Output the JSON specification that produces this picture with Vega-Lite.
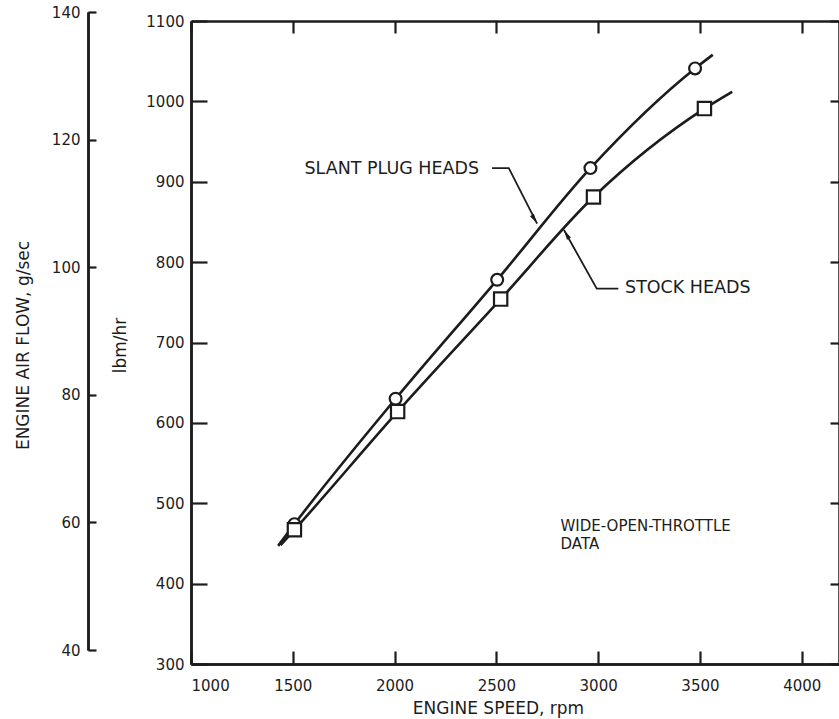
{
  "$schema": "https://vega.github.io/schema/vega-lite/v6.json",
  "width": 648,
  "height": 643,
  "autosize": {"type": "none"},
  "padding": {"left": 191, "top": 21, "right": 0, "bottom": 55},
  "background": "white",
  "config": {
    "view": {"stroke": null},
    "font": "DejaVu Sans",
    "axis": {
      "domainColor": "#1c1c1c",
      "domainWidth": 2.5,
      "tickColor": "#1c1c1c",
      "tickWidth": 2.2,
      "labelColor": "#1c1c1c",
      "labelFont": "DejaVu Sans",
      "labelFontSize": 15,
      "titleFont": "DejaVu Sans",
      "titleFontSize": 17,
      "titleFontWeight": "normal",
      "titleColor": "#1c1c1c",
      "grid": false
    }
  },
  "datasets": {
    "curves": [
      {"series": "Slant plug heads", "rpm": 1428, "lbm": 447},
      {"series": "Slant plug heads", "rpm": 1508, "lbm": 474},
      {"series": "Slant plug heads", "rpm": 2005, "lbm": 630},
      {"series": "Slant plug heads", "rpm": 2504, "lbm": 778},
      {"series": "Slant plug heads", "rpm": 2962, "lbm": 917},
      {"series": "Slant plug heads", "rpm": 3476, "lbm": 1041},
      {"series": "Slant plug heads", "rpm": 3563, "lbm": 1058},
      {"series": "Stock heads", "rpm": 1440, "lbm": 448},
      {"series": "Stock heads", "rpm": 1508, "lbm": 467},
      {"series": "Stock heads", "rpm": 2015, "lbm": 614},
      {"series": "Stock heads", "rpm": 2521, "lbm": 754},
      {"series": "Stock heads", "rpm": 2977, "lbm": 881},
      {"series": "Stock heads", "rpm": 3522, "lbm": 991},
      {"series": "Stock heads", "rpm": 3658, "lbm": 1012}
    ],
    "slant": [
      {"rpm": 1508, "lbm": 474},
      {"rpm": 2005, "lbm": 630},
      {"rpm": 2504, "lbm": 778},
      {"rpm": 2962, "lbm": 917},
      {"rpm": 3476, "lbm": 1041}
    ],
    "stock": [
      {"rpm": 1508, "lbm": 467},
      {"rpm": 2015, "lbm": 614},
      {"rpm": 2521, "lbm": 754},
      {"rpm": 2977, "lbm": 881},
      {"rpm": 3522, "lbm": 991}
    ],
    "labels": [
      {"text": "SLANT PLUG HEADS", "rpm": 1557, "lbm": 916},
      {"text": "STOCK HEADS", "rpm": 3132, "lbm": 768}
    ],
    "notes": [
      {"text": "WIDE-OPEN-THROTTLE", "rpm": 2815, "lbm": 472},
      {"text": "DATA", "rpm": 2815, "lbm": 449}
    ],
    "leaders": [
      {"leader": "slant", "k": 1, "rpm": 2479, "lbm": 917},
      {"leader": "slant", "k": 2, "rpm": 2561, "lbm": 917},
      {"leader": "slant", "k": 3, "rpm": 2700, "lbm": 848},
      {"leader": "stock", "k": 1, "rpm": 3099, "lbm": 767},
      {"leader": "stock", "k": 2, "rpm": 2993, "lbm": 767},
      {"leader": "stock", "k": 3, "rpm": 2832, "lbm": 840}
    ],
    "gs": [{"gs": 40}, {"gs": 140}]
  },
  "layer": [
    {
      "layer": [
        {
          "data": {"name": "curves"},
          "mark": {"type": "line", "interpolate": "monotone", "color": "#1c1c1c", "strokeWidth": 2.6},
          "encoding": {
            "x": {
              "field": "rpm", "type": "quantitative",
              "scale": {"domain": [1000, 4183], "nice": false, "zero": false},
              "axis": {
                "orient": "bottom",
                "values": [1000, 1500, 2000, 2500, 3000, 3500, 4000],
                "format": "d",
                "ticks": false,
                "labelPadding": 14,
                "title": "ENGINE SPEED, rpm",
                "titleX": 307,
                "titleY": 44,
                "titleBaseline": "middle"
              }
            },
            "y": {
              "field": "lbm", "type": "quantitative",
              "scale": {"domain": [300, 1100], "nice": false, "zero": false},
              "axis": {
                "orient": "left",
                "values": [300, 400, 500, 600, 700, 800, 900, 1000, 1100],
                "format": "d",
                "ticks": false,
                "labelPadding": 7,
                "title": "lbm/hr",
                "titleFontSize": 17,
                "titleX": -71,
                "titleY": 324,
                "titleAngle": -90,
                "titleBaseline": "middle",
                "titleAlign": "center"
              }
            },
            "detail": {"field": "series"}
          }
        },
        {
          "data": {"name": "slant"},
          "mark": {"type": "point", "shape": "circle", "filled": true, "fill": "white", "stroke": "#1c1c1c", "strokeWidth": 2.2, "size": 140, "opacity": 1},
          "encoding": {
            "x": {"field": "rpm", "type": "quantitative"},
            "y": {"field": "lbm", "type": "quantitative"}
          }
        },
        {
          "data": {"name": "stock"},
          "mark": {"type": "point", "shape": "square", "filled": true, "fill": "white", "stroke": "#1c1c1c", "strokeWidth": 2.2, "size": 177, "opacity": 1},
          "encoding": {
            "x": {"field": "rpm", "type": "quantitative"},
            "y": {"field": "lbm", "type": "quantitative"}
          }
        },
        {
          "data": {"name": "leaders"},
          "mark": {"type": "line", "color": "#1c1c1c", "strokeWidth": 1.8},
          "encoding": {
            "x": {"field": "rpm", "type": "quantitative"},
            "y": {"field": "lbm", "type": "quantitative"},
            "detail": {"field": "leader"},
            "order": {"field": "k"}
          }
        },
        {
          "data": {"name": "leaders"},
          "transform": [{"filter": "datum.leader === 'slant' && datum.k === 3"}],
          "mark": {"type": "point", "shape": "M0,0L0.45,2L-0.45,2Z", "filled": true, "color": "#1c1c1c", "size": 100, "angle": 149, "opacity": 1},
          "encoding": {
            "x": {"field": "rpm", "type": "quantitative"},
            "y": {"field": "lbm", "type": "quantitative"}
          }
        },
        {
          "data": {"name": "leaders"},
          "transform": [{"filter": "datum.leader === 'stock' && datum.k === 3"}],
          "mark": {"type": "point", "shape": "M0,0L0.45,2L-0.45,2Z", "filled": true, "color": "#1c1c1c", "size": 100, "angle": 330, "opacity": 1},
          "encoding": {
            "x": {"field": "rpm", "type": "quantitative"},
            "y": {"field": "lbm", "type": "quantitative"}
          }
        },
        {
          "data": {"name": "labels"},
          "mark": {"type": "text", "align": "left", "baseline": "middle", "font": "DejaVu Sans", "fontSize": 17.5, "color": "#1c1c1c"},
          "encoding": {
            "x": {"field": "rpm", "type": "quantitative"},
            "y": {"field": "lbm", "type": "quantitative"},
            "text": {"field": "text"}
          }
        },
        {
          "data": {"name": "notes"},
          "mark": {"type": "text", "align": "left", "baseline": "middle", "font": "DejaVu Sans", "fontSize": 15, "color": "#1c1c1c"},
          "encoding": {
            "x": {"field": "rpm", "type": "quantitative"},
            "y": {"field": "lbm", "type": "quantitative"},
            "text": {"field": "text"}
          }
        }
      ]
    },
    {
      "data": {"name": "curves"},
      "mark": {"type": "point", "opacity": 0},
      "encoding": {
        "x": {
          "field": "rpm", "type": "quantitative",
          "scale": {"domain": [1000, 4183], "nice": false, "zero": false},
          "axis": {"orient": "bottom", "offset": -643, "values": [1000, 1500, 2000, 2500, 3000, 3500, 4000], "tickSize": 12, "labels": false, "title": null}
        },
        "y": {
          "field": "lbm", "type": "quantitative",
          "scale": {"domain": [300, 1100], "nice": false, "zero": false},
          "axis": {"orient": "left", "offset": -648, "values": [300, 400, 500, 600, 700, 800, 900, 1000, 1100], "tickSize": 9, "labels": false, "title": null}
        }
      }
    },
    {
      "data": {"name": "curves"},
      "mark": {"type": "point", "opacity": 0},
      "encoding": {
        "x": {
          "field": "rpm", "type": "quantitative",
          "scale": {"domain": [1000, 4183], "nice": false, "zero": false},
          "axis": {"orient": "top", "offset": -643, "values": [1000, 1500, 2000, 2500, 3000, 3500, 4000], "tickSize": 13, "labels": false, "title": null}
        },
        "y": {
          "field": "lbm", "type": "quantitative",
          "scale": {"domain": [300, 1100], "nice": false, "zero": false},
          "axis": {"orient": "right", "offset": -648, "values": [300, 400, 500, 600, 700, 800, 900, 1000, 1100], "tickSize": 16, "labels": false, "title": null}
        }
      }
    },
    {
      "data": {"name": "gs"},
      "mark": {"type": "point", "opacity": 0},
      "encoding": {
        "y": {
          "field": "gs", "type": "quantitative",
          "scale": {"domain": [40, 140], "range": [629, -9], "nice": false, "zero": false},
          "axis": {
            "orient": "left",
            "offset": 103,
            "values": [40, 60, 80, 100, 120, 140],
            "format": "d",
            "ticks": false,
            "labelPadding": 8,
            "title": "ENGINE AIR FLOW, g/sec",
            "titleX": -65,
            "titleY": 324,
            "titleAngle": -90,
            "titleBaseline": "middle",
            "titleAlign": "center"
          }
        }
      }
    },
    {
      "data": {"name": "gs"},
      "mark": {"type": "point", "opacity": 0},
      "encoding": {
        "y": {
          "field": "gs", "type": "quantitative",
          "scale": {"domain": [40, 140], "range": [629, -9], "nice": false, "zero": false},
          "axis": {
            "orient": "right",
            "offset": -751,
            "values": [40, 60, 80, 100, 120, 140],
            "tickSize": 8,
            "labels": false,
            "title": null
          }
        }
      }
    }
  ],
  "resolve": {
    "scale": {"x": "independent", "y": "independent"},
    "axis": {"x": "independent", "y": "independent"}
  }
}
